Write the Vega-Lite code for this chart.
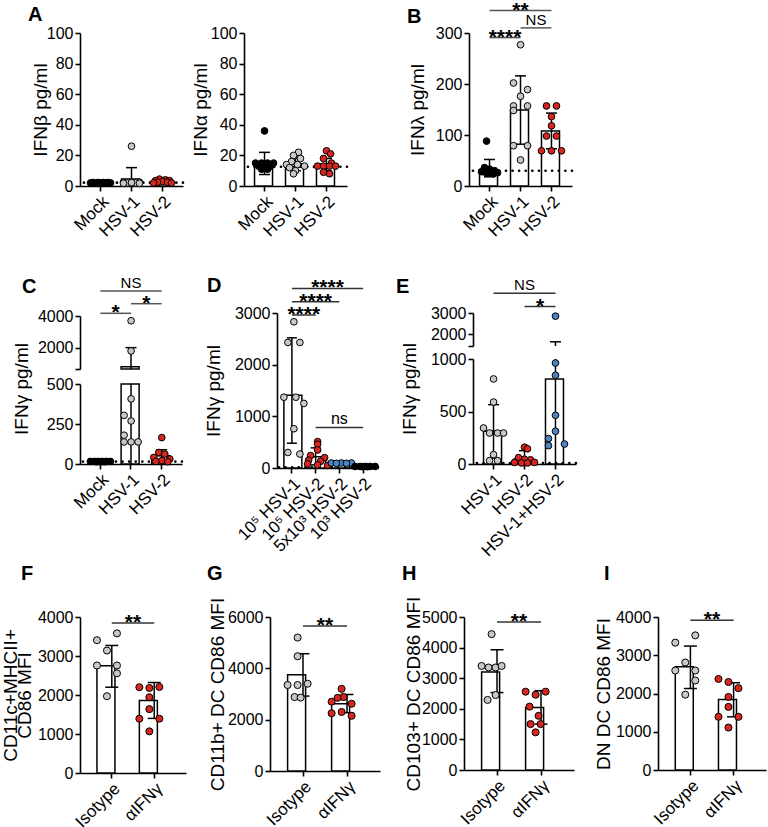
{
"$schema": "https://vega.github.io/schema/vega-lite/v6.json",
"padding": {"left": 1, "top": -1, "right": 5, "bottom": 5},
"config": {
  "view": {"stroke": null},
  "font": "Liberation Sans",
  "numberFormat": "d",
  "axis": {"domainColor": "black", "domainWidth": 1.6, "tickColor": "black", "tickWidth": 1.6, "tickSize": 5, "labelColor": "black", "labelFontSize": 16, "labelPadding": 2, "labelOverlap": false, "titleFontSize": 19, "titleFontWeight": "normal", "titleColor": "black", "titlePadding": 0, "grid": false},
  "axisX": {"labelAngle": -45, "labelFontSize": 17},
  "title": {"anchor": "start", "frame": "bounds", "fontSize": 20, "fontWeight": "bold", "baseline": "alphabetic", "color": "black"}
},
"datasets": {
  "bars": [
    {"p":"A1","g":"Mock","m":2,"lo":1.5,"hi":2.5},
    {"p":"A1","g":"HSV-1","m":4.5,"lo":0,"hi":12},
    {"p":"A1","g":"HSV-2","m":3,"lo":2,"hi":4},
    {"p":"A2","g":"Mock","m":14.5,"lo":7.5,"hi":22},
    {"p":"A2","g":"HSV-1","m":14.5,"lo":10,"hi":18},
    {"p":"A2","g":"HSV-2","m":14.5,"lo":10,"hi":18},
    {"p":"B","g":"Mock","m":30,"lo":18,"hi":52},
    {"p":"B","g":"HSV-1","m":149,"lo":82,"hi":216},
    {"p":"B","g":"HSV-2","m":108,"lo":73,"hi":143},
    {"p":"C","g":"Mock","m":15,"lo":12,"hi":18},
    {"p":"C","g":"HSV-1","m":790,"lo":0,"hi":2000},
    {"p":"C","g":"HSV-2","m":52,"lo":15,"hi":89},
    {"p":"D","g":"10⁵ HSV-1","m":1410,"lo":480,"hi":2520},
    {"p":"D","g":"10⁵ HSV-2","m":220,"lo":60,"hi":390},
    {"p":"D","g":"5x10³ HSV-2","m":88,"lo":78,"hi":100},
    {"p":"D","g":"10³ HSV-2","m":25,"lo":20,"hi":30},
    {"p":"E","g":"HSV-1","m":311,"lo":55,"hi":565},
    {"p":"E","g":"HSV-2","m":50,"lo":0,"hi":127},
    {"p":"E","g":"HSV-1+HSV-2","m":810,"lo":0,"hi":1630},
    {"p":"F","g":"Isotype","m":2750,"lo":2200,"hi":3270},
    {"p":"F","g":"αIFNγ","m":1856,"lo":1400,"hi":2320},
    {"p":"G","g":"Isotype","m":3750,"lo":2920,"hi":4570},
    {"p":"G","g":"αIFNγ","m":2620,"lo":2270,"hi":2980},
    {"p":"H","g":"Isotype","m":3200,"lo":2530,"hi":3930},
    {"p":"H","g":"αIFNγ","m":2040,"lo":1500,"hi":2590},
    {"p":"I","g":"Isotype","m":2700,"lo":2130,"hi":3240},
    {"p":"I","g":"αIFNγ","m":1840,"lo":1390,"hi":2280}
  ],
  "lod": [
    {"p":"A1","y":2.2},{"p":"A2","y":12.6},{"p":"B","y":30},{"p":"C","y":15},{"p":"D","y":13},{"p":"E","y":10}
  ],
  "sig": [
    {"p":"B","i1":0,"i2":1,"y":291,"t":"****"},
    {"p":"B","i1":1,"i2":2,"y":310,"t":"NS"},
    {"p":"B","i1":0,"i2":2,"y":344,"t":"**"},
    {"p":"C","i1":0,"i2":1,"y":4170,"t":"*"},
    {"p":"C","i1":1,"i2":2,"y":4777,"t":"*"},
    {"p":"C","i1":0,"i2":2,"y":5580,"t":"NS"},
    {"p":"D","i1":0,"i2":1,"y":2961,"t":"****"},
    {"p":"D","i1":0,"i2":2,"y":3219,"t":"****"},
    {"p":"D","i1":0,"i2":3,"y":3476,"t":"****"},
    {"p":"D","i1":1,"i2":3,"y":786,"t":"ns"},
    {"p":"E","i1":0,"i2":2,"y":3935,"t":"NS"},
    {"p":"E","i1":1,"i2":2,"y":3309,"t":"*"},
    {"p":"F","i1":0,"i2":1,"y":3846,"t":"**"},
    {"p":"G","i1":0,"i2":1,"y":5649,"t":"**"},
    {"p":"H","i1":0,"i2":1,"y":4837,"t":"**"},
    {"p":"I","i1":0,"i2":1,"y":3914,"t":"**"}
  ],
  "pts": [
    {"p":"A1","g":"Mock","v":2,"s":-1},{"p":"A1","g":"Mock","v":2,"s":-0.5},{"p":"A1","g":"Mock","v":2,"s":0},{"p":"A1","g":"Mock","v":2,"s":0.5},{"p":"A1","g":"Mock","v":2,"s":1},
    {"p":"A1","g":"Mock","v":2.3,"s":-0.75},{"p":"A1","g":"Mock","v":2.3,"s":-0.25},{"p":"A1","g":"Mock","v":2.3,"s":0.25},{"p":"A1","g":"Mock","v":2.3,"s":0.75},
    {"p":"A1","g":"HSV-1","v":26,"s":0},{"p":"A1","g":"HSV-1","v":2.5,"s":-0.8},{"p":"A1","g":"HSV-1","v":2.5,"s":0},{"p":"A1","g":"HSV-1","v":2.5,"s":0.8},{"p":"A1","g":"HSV-1","v":2,"s":-0.4},{"p":"A1","g":"HSV-1","v":2,"s":0.4},{"p":"A1","g":"HSV-1","v":1.8,"s":-0.8},{"p":"A1","g":"HSV-1","v":1.8,"s":0.8},{"p":"A1","g":"HSV-1","v":2.2,"s":0},
    {"p":"A1","g":"HSV-2","v":4.5,"s":-0.3},{"p":"A1","g":"HSV-2","v":4,"s":0.3},{"p":"A1","g":"HSV-2","v":3.5,"s":-0.7},{"p":"A1","g":"HSV-2","v":3.5,"s":0.7},{"p":"A1","g":"HSV-2","v":3,"s":0},{"p":"A1","g":"HSV-2","v":2.5,"s":-0.5},{"p":"A1","g":"HSV-2","v":2.5,"s":0.5},{"p":"A1","g":"HSV-2","v":2,"s":-0.9},{"p":"A1","g":"HSV-2","v":2,"s":0.9},
    {"p":"A2","g":"Mock","v":36,"s":0},{"p":"A2","g":"Mock","v":15,"s":-0.9},{"p":"A2","g":"Mock","v":15,"s":-0.3},{"p":"A2","g":"Mock","v":15,"s":0.3},{"p":"A2","g":"Mock","v":15,"s":0.9},{"p":"A2","g":"Mock","v":13,"s":-0.6},{"p":"A2","g":"Mock","v":13,"s":0},{"p":"A2","g":"Mock","v":13,"s":0.6},{"p":"A2","g":"Mock","v":11,"s":-0.3},{"p":"A2","g":"Mock","v":11,"s":0.3},
    {"p":"A2","g":"HSV-1","v":22,"s":0.3},{"p":"A2","g":"HSV-1","v":20,"s":-0.2},{"p":"A2","g":"HSV-1","v":18,"s":0.5},{"p":"A2","g":"HSV-1","v":16,"s":-0.4},{"p":"A2","g":"HSV-1","v":14,"s":-0.9},{"p":"A2","g":"HSV-1","v":14,"s":0.2},{"p":"A2","g":"HSV-1","v":13,"s":0.9},{"p":"A2","g":"HSV-1","v":12,"s":-0.6},{"p":"A2","g":"HSV-1","v":10,"s":0},{"p":"A2","g":"HSV-1","v":8,"s":-0.2},
    {"p":"A2","g":"HSV-2","v":23,"s":0},{"p":"A2","g":"HSV-2","v":21,"s":0.4},{"p":"A2","g":"HSV-2","v":18,"s":-0.3},{"p":"A2","g":"HSV-2","v":15,"s":0.5},{"p":"A2","g":"HSV-2","v":13,"s":-0.9},{"p":"A2","g":"HSV-2","v":13,"s":-0.3},{"p":"A2","g":"HSV-2","v":13,"s":0.3},{"p":"A2","g":"HSV-2","v":13,"s":0.9},{"p":"A2","g":"HSV-2","v":9,"s":-0.3},{"p":"A2","g":"HSV-2","v":8,"s":0.3},
    {"p":"B","g":"Mock","v":88,"s":-0.3},{"p":"B","g":"Mock","v":36,"s":-0.5},{"p":"B","g":"Mock","v":33,"s":0},{"p":"B","g":"Mock","v":30,"s":0.5},{"p":"B","g":"Mock","v":28,"s":-0.8},{"p":"B","g":"Mock","v":27,"s":0.2},{"p":"B","g":"Mock","v":26,"s":0.8},{"p":"B","g":"Mock","v":25,"s":-0.3},{"p":"B","g":"Mock","v":24,"s":0.4},
    {"p":"B","g":"HSV-1","v":277,"s":0},{"p":"B","g":"HSV-1","v":202,"s":-0.7},{"p":"B","g":"HSV-1","v":189,"s":0.7},{"p":"B","g":"HSV-1","v":176,"s":0},{"p":"B","g":"HSV-1","v":157,"s":-0.7},{"p":"B","g":"HSV-1","v":157,"s":0.7},{"p":"B","g":"HSV-1","v":148,"s":-0.7},{"p":"B","g":"HSV-1","v":79,"s":-0.7},{"p":"B","g":"HSV-1","v":79,"s":0.7},{"p":"B","g":"HSV-1","v":51,"s":0},
    {"p":"B","g":"HSV-2","v":157,"s":-0.5},{"p":"B","g":"HSV-2","v":157,"s":0.5},{"p":"B","g":"HSV-2","v":136,"s":0},{"p":"B","g":"HSV-2","v":118,"s":0},{"p":"B","g":"HSV-2","v":98,"s":-0.5},{"p":"B","g":"HSV-2","v":98,"s":0.5},{"p":"B","g":"HSV-2","v":69,"s":-1},{"p":"B","g":"HSV-2","v":69,"s":0},{"p":"B","g":"HSV-2","v":69,"s":1},
    {"p":"C","g":"Mock","v":16,"s":-1},{"p":"C","g":"Mock","v":16,"s":-0.6},{"p":"C","g":"Mock","v":16,"s":-0.2},{"p":"C","g":"Mock","v":16,"s":0.2},{"p":"C","g":"Mock","v":16,"s":0.6},{"p":"C","g":"Mock","v":16,"s":1},{"p":"C","g":"Mock","v":14,"s":-0.4},{"p":"C","g":"Mock","v":14,"s":0},{"p":"C","g":"Mock","v":14,"s":0.4},
    {"p":"C","g":"HSV-1","v":3700,"s":0},{"p":"C","g":"HSV-1","v":1790,"s":0},{"p":"C","g":"HSV-1","v":407,"s":0},{"p":"C","g":"HSV-1","v":304,"s":-0.7},{"p":"C","g":"HSV-1","v":269,"s":0},{"p":"C","g":"HSV-1","v":180,"s":-0.7},{"p":"C","g":"HSV-1","v":138,"s":-0.7},{"p":"C","g":"HSV-1","v":138,"s":0},{"p":"C","g":"HSV-1","v":138,"s":0.7},
    {"p":"C","g":"HSV-2","v":165,"s":0},{"p":"C","g":"HSV-2","v":72,"s":-0.3},{"p":"C","g":"HSV-2","v":62,"s":0.3},{"p":"C","g":"HSV-2","v":41,"s":-0.8},{"p":"C","g":"HSV-2","v":31,"s":0.8},{"p":"C","g":"HSV-2","v":21,"s":0},{"p":"C","g":"HSV-2","v":16,"s":-0.6},{"p":"C","g":"HSV-2","v":14,"s":0.6},
    {"p":"D","g":"10⁵ HSV-1","v":2830,"s":0},{"p":"D","g":"10⁵ HSV-1","v":2430,"s":-0.6},{"p":"D","g":"10⁵ HSV-1","v":2430,"s":0.6},{"p":"D","g":"10⁵ HSV-1","v":1370,"s":-1},{"p":"D","g":"10⁵ HSV-1","v":1370,"s":0.2},{"p":"D","g":"10⁵ HSV-1","v":1250,"s":1},{"p":"D","g":"10⁵ HSV-1","v":760,"s":0},{"p":"D","g":"10⁵ HSV-1","v":300,"s":-0.6},{"p":"D","g":"10⁵ HSV-1","v":270,"s":0.6},
    {"p":"D","g":"10⁵ HSV-2","v":510,"s":0},{"p":"D","g":"10⁵ HSV-2","v":460,"s":0},{"p":"D","g":"10⁵ HSV-2","v":350,"s":0},{"p":"D","g":"10⁵ HSV-2","v":240,"s":-0.7},{"p":"D","g":"10⁵ HSV-2","v":200,"s":0.7},{"p":"D","g":"10⁵ HSV-2","v":150,"s":-0.9},{"p":"D","g":"10⁵ HSV-2","v":130,"s":0.3},{"p":"D","g":"10⁵ HSV-2","v":80,"s":-1},{"p":"D","g":"10⁵ HSV-2","v":60,"s":0},{"p":"D","g":"10⁵ HSV-2","v":50,"s":1},
    {"p":"D","g":"5x10³ HSV-2","v":97,"s":-1},{"p":"D","g":"5x10³ HSV-2","v":97,"s":0},{"p":"D","g":"5x10³ HSV-2","v":97,"s":1},{"p":"D","g":"5x10³ HSV-2","v":90,"s":-0.5},{"p":"D","g":"5x10³ HSV-2","v":90,"s":0.5},
    {"p":"D","g":"10³ HSV-2","v":30,"s":-1},{"p":"D","g":"10³ HSV-2","v":30,"s":-0.5},{"p":"D","g":"10³ HSV-2","v":30,"s":0},{"p":"D","g":"10³ HSV-2","v":30,"s":0.5},{"p":"D","g":"10³ HSV-2","v":30,"s":1},{"p":"D","g":"10³ HSV-2","v":25,"s":-0.25},{"p":"D","g":"10³ HSV-2","v":25,"s":0.25},
    {"p":"E","g":"HSV-1","v":810,"s":0},{"p":"E","g":"HSV-1","v":590,"s":0},{"p":"E","g":"HSV-1","v":343,"s":-1},{"p":"E","g":"HSV-1","v":295,"s":-0.4},{"p":"E","g":"HSV-1","v":295,"s":0.4},{"p":"E","g":"HSV-1","v":295,"s":1},{"p":"E","g":"HSV-1","v":89,"s":0},{"p":"E","g":"HSV-1","v":32,"s":-0.4},{"p":"E","g":"HSV-1","v":32,"s":0.4},
    {"p":"E","g":"HSV-2","v":160,"s":0},{"p":"E","g":"HSV-2","v":145,"s":0.3},{"p":"E","g":"HSV-2","v":60,"s":-0.6},{"p":"E","g":"HSV-2","v":45,"s":0},{"p":"E","g":"HSV-2","v":40,"s":0.6},{"p":"E","g":"HSV-2","v":15,"s":-1},{"p":"E","g":"HSV-2","v":10,"s":-0.3},{"p":"E","g":"HSV-2","v":10,"s":0.3},{"p":"E","g":"HSV-2","v":15,"s":1},
    {"p":"E","g":"HSV-1+HSV-2","v":2850,"s":0},{"p":"E","g":"HSV-1+HSV-2","v":962,"s":0},{"p":"E","g":"HSV-1+HSV-2","v":845,"s":0},{"p":"E","g":"HSV-1+HSV-2","v":464,"s":0},{"p":"E","g":"HSV-1+HSV-2","v":312,"s":0},{"p":"E","g":"HSV-1+HSV-2","v":242,"s":-0.7},{"p":"E","g":"HSV-1+HSV-2","v":175,"s":-0.7},{"p":"E","g":"HSV-1+HSV-2","v":190,"s":0.9},
    {"p":"F","g":"Isotype","v":3580,"s":1},{"p":"F","g":"Isotype","v":3405,"s":-1},{"p":"F","g":"Isotype","v":3140,"s":0},{"p":"F","g":"Isotype","v":2757,"s":-1},{"p":"F","g":"Isotype","v":2757,"s":1},{"p":"F","g":"Isotype","v":2556,"s":1},{"p":"F","g":"Isotype","v":1969,"s":0},
    {"p":"F","g":"αIFNγ","v":2200,"s":-1},{"p":"F","g":"αIFNγ","v":2180,"s":0},{"p":"F","g":"αIFNγ","v":2206,"s":1},{"p":"F","g":"αIFNγ","v":1943,"s":0},{"p":"F","g":"αIFNγ","v":1637,"s":0},{"p":"F","g":"αIFNγ","v":1392,"s":-1},{"p":"F","g":"αIFNγ","v":1392,"s":1},{"p":"F","g":"αIFNγ","v":1068,"s":0},
    {"p":"G","g":"Isotype","v":5200,"s":0},{"p":"G","g":"Isotype","v":4470,"s":0},{"p":"G","g":"Isotype","v":3350,"s":-1},{"p":"G","g":"Isotype","v":3350,"s":0},{"p":"G","g":"Isotype","v":3400,"s":1},{"p":"G","g":"Isotype","v":2880,"s":-0.3},{"p":"G","g":"Isotype","v":2860,"s":0.3},
    {"p":"G","g":"αIFNγ","v":3200,"s":0},{"p":"G","g":"αIFNγ","v":2880,"s":0.2},{"p":"G","g":"αIFNγ","v":2850,"s":-0.4},{"p":"G","g":"αIFNγ","v":2700,"s":-1},{"p":"G","g":"αIFNγ","v":2620,"s":1},{"p":"G","g":"αIFNγ","v":2300,"s":0},{"p":"G","g":"αIFNγ","v":2250,"s":-1},{"p":"G","g":"αIFNγ","v":2150,"s":1},
    {"p":"H","g":"Isotype","v":4440,"s":0},{"p":"H","g":"Isotype","v":3400,"s":-1},{"p":"H","g":"Isotype","v":3350,"s":-0.3},{"p":"H","g":"Isotype","v":3350,"s":0.4},{"p":"H","g":"Isotype","v":3400,"s":1},{"p":"H","g":"Isotype","v":2450,"s":0.4},{"p":"H","g":"Isotype","v":2290,"s":-0.4},
    {"p":"H","g":"αIFNγ","v":2560,"s":-1},{"p":"H","g":"αIFNγ","v":2560,"s":1},{"p":"H","g":"αIFNγ","v":2460,"s":0},{"p":"H","g":"αIFNγ","v":2070,"s":-0.6},{"p":"H","g":"αIFNγ","v":1770,"s":0.3},{"p":"H","g":"αIFNγ","v":1500,"s":-0.5},{"p":"H","g":"αIFNγ","v":1500,"s":0.5},{"p":"H","g":"αIFNγ","v":1230,"s":0},
    {"p":"I","g":"Isotype","v":3520,"s":1},{"p":"I","g":"Isotype","v":3330,"s":-1},{"p":"I","g":"Isotype","v":2810,"s":0},{"p":"I","g":"Isotype","v":2600,"s":-1},{"p":"I","g":"Isotype","v":2600,"s":1},{"p":"I","g":"Isotype","v":2340,"s":1},{"p":"I","g":"Isotype","v":1970,"s":0},
    {"p":"I","g":"αIFNγ","v":2380,"s":-1},{"p":"I","g":"αIFNγ","v":2300,"s":0},{"p":"I","g":"αIFNγ","v":2140,"s":1},{"p":"I","g":"αIFNγ","v":1910,"s":0},{"p":"I","g":"αIFNγ","v":1650,"s":0},{"p":"I","g":"αIFNγ","v":1390,"s":-1},{"p":"I","g":"αIFNγ","v":1390,"s":1},{"p":"I","g":"αIFNγ","v":1110,"s":0}
  ]
},
"bounds": "flush",
"spacing": 280,
"vconcat": [
 {"bounds": "flush", "spacing": 61, "hconcat": [
  {"width": 103, "height": 153, "title": {"text": "A", "dx": -3, "offset": 0},
   "layer": [
    {"data": {"name": "bars"}, "transform": [{"filter": "datum.p=='A1'"}], "mark": {"type": "bar", "fill": "white", "stroke": "black", "strokeWidth": 1.5},
     "encoding": {"x": {"field": "g", "type": "nominal", "scale": {"domain": ["Mock","HSV-1","HSV-2"], "paddingInner": 0.355, "paddingOuter": 0.34}, "axis": {"title": null}},
       "y": {"field": "m", "type": "quantitative", "scale": {"domain": [0,100], "nice": false}, "axis": {"title": "IFNβ pg/ml", "values": [0,20,40,60,80,100], "tickCount": 12, "labelOverlap": false, "minExtent": 30, "maxExtent": 30}}}},
    {"data": {"name": "bars"}, "transform": [{"filter": "datum.p=='A1'"}], "mark": {"type": "rule", "color": "black", "strokeWidth": 1.5},
     "encoding": {"x": {"field": "g", "type": "nominal"}, "y": {"field": "lo", "type": "quantitative"}, "y2": {"field": "hi"}}},
    {"data": {"name": "bars"}, "transform": [{"filter": "datum.p=='A1'"}], "mark": {"type": "tick", "color": "black", "thickness": 1.5, "size": 11, "opacity": 1},
     "encoding": {"x": {"field": "g", "type": "nominal"}, "y": {"field": "hi", "type": "quantitative"}}},
    {"data": {"name": "lod"}, "transform": [{"filter": "datum.p=='A1'"}], "mark": {"type": "rule", "color": "black", "strokeWidth": 2.6, "strokeDash": [0.1, 6.5], "strokeCap": "round"},
     "encoding": {"y": {"field": "y", "type": "quantitative"}}},
    {"data": {"name": "pts"}, "transform": [{"filter": "datum.p=='A1'"}], "mark": {"type": "point", "filled": true, "size": 45, "stroke": "black", "strokeWidth": 1, "opacity": 1},
     "encoding": {"x": {"field": "g", "type": "nominal"}, "xOffset": {"field": "s", "type": "quantitative", "scale": {"domain": [-1,1], "range": [0,20]}}, "y": {"field": "v", "type": "quantitative"},
       "fill": {"field": "g", "type": "nominal", "scale": {"domain": ["Mock","HSV-1","HSV-2","10⁵ HSV-1","10⁵ HSV-2","5x10³ HSV-2","10³ HSV-2","HSV-1+HSV-2","Isotype","αIFNγ"], "range": ["#000000","#c8c8c8","#d7261e","#c8c8c8","#d7261e","#4a84c4","#000000","#4a84c4","#c8c8c8","#d7261e"]}, "legend": null}}}
   ]},
  {"bounds": "flush", "spacing": 122, "hconcat": [
   {"width": 103, "height": 153,
    "layer": [
     {"data": {"name": "bars"}, "transform": [{"filter": "datum.p=='A2'"}], "mark": {"type": "bar", "fill": "white", "stroke": "black", "strokeWidth": 1.5},
      "encoding": {"x": {"field": "g", "type": "nominal", "scale": {"domain": ["Mock","HSV-1","HSV-2"], "paddingInner": 0.355, "paddingOuter": 0.34}, "axis": {"title": null}},
        "y": {"field": "m", "type": "quantitative", "scale": {"domain": [0,100], "nice": false}, "axis": {"title": "IFNα pg/ml", "values": [0,20,40,60,80,100], "tickCount": 12, "labelOverlap": false, "minExtent": 34, "maxExtent": 34}}}},
     {"data": {"name": "bars"}, "transform": [{"filter": "datum.p=='A2'"}], "mark": {"type": "rule", "color": "black", "strokeWidth": 1.5},
      "encoding": {"x": {"field": "g", "type": "nominal"}, "y": {"field": "lo", "type": "quantitative"}, "y2": {"field": "hi"}}},
     {"data": {"name": "bars"}, "transform": [{"filter": "datum.p=='A2'"}], "mark": {"type": "tick", "color": "black", "thickness": 1.5, "size": 11, "opacity": 1},
      "encoding": {"x": {"field": "g", "type": "nominal"}, "y": {"field": "hi", "type": "quantitative"}}},
     {"data": {"name": "bars"}, "transform": [{"filter": "datum.p=='A2'"}], "mark": {"type": "tick", "color": "black", "thickness": 1.5, "size": 11, "opacity": 1},
      "encoding": {"x": {"field": "g", "type": "nominal"}, "y": {"field": "lo", "type": "quantitative"}}},
     {"data": {"name": "lod"}, "transform": [{"filter": "datum.p=='A2'"}], "mark": {"type": "rule", "color": "black", "strokeWidth": 2.6, "strokeDash": [0.1, 6.5], "strokeCap": "round"},
      "encoding": {"y": {"field": "y", "type": "quantitative"}}},
     {"data": {"name": "pts"}, "transform": [{"filter": "datum.p=='A2'"}], "mark": {"type": "point", "filled": true, "size": 45, "stroke": "black", "strokeWidth": 1, "opacity": 1},
      "encoding": {"x": {"field": "g", "type": "nominal"}, "xOffset": {"field": "s", "type": "quantitative", "scale": {"domain": [-1,1], "range": [0,20]}}, "y": {"field": "v", "type": "quantitative"},
        "fill": {"field": "g", "type": "nominal", "scale": {"domain": ["Mock","HSV-1","HSV-2","10⁵ HSV-1","10⁵ HSV-2","5x10³ HSV-2","10³ HSV-2","HSV-1+HSV-2","Isotype","αIFNγ"], "range": ["#000000","#c8c8c8","#d7261e","#c8c8c8","#d7261e","#4a84c4","#000000","#4a84c4","#c8c8c8","#d7261e"]}, "legend": null}}}
    ]},
   {"width": 103, "height": 153, "title": {"text": "B", "dx": -1, "offset": -27},
    "resolve": {"scale": {"x": "independent"}},
    "layer": [
     {"layer": [
      {"data": {"name": "bars"}, "transform": [{"filter": "datum.p=='B'"}], "mark": {"type": "bar", "fill": "white", "stroke": "black", "strokeWidth": 1.5},
       "encoding": {"x": {"field": "g", "type": "nominal", "scale": {"domain": ["Mock","HSV-1","HSV-2"], "paddingInner": 0.355, "paddingOuter": 0.34}, "axis": {"title": null}},
         "y": {"field": "m", "type": "quantitative", "scale": {"domain": [0,300], "nice": false}, "axis": {"title": "IFNλ pg/ml", "values": [0,100,200,300], "tickCount": 12, "labelOverlap": false, "minExtent": 42, "maxExtent": 42}}}},
      {"data": {"name": "bars"}, "transform": [{"filter": "datum.p=='B'"}], "mark": {"type": "rule", "color": "black", "strokeWidth": 1.5},
       "encoding": {"x": {"field": "g", "type": "nominal"}, "y": {"field": "lo", "type": "quantitative"}, "y2": {"field": "hi"}}},
      {"data": {"name": "bars"}, "transform": [{"filter": "datum.p=='B'"}], "mark": {"type": "tick", "color": "black", "thickness": 1.5, "size": 11, "opacity": 1},
       "encoding": {"x": {"field": "g", "type": "nominal"}, "y": {"field": "hi", "type": "quantitative"}}},
      {"data": {"name": "bars"}, "transform": [{"filter": "datum.p=='B'"}], "mark": {"type": "tick", "color": "black", "thickness": 1.5, "size": 11, "opacity": 1},
       "encoding": {"x": {"field": "g", "type": "nominal"}, "y": {"field": "lo", "type": "quantitative"}}},
      {"data": {"name": "lod"}, "transform": [{"filter": "datum.p=='B'"}], "mark": {"type": "rule", "color": "black", "strokeWidth": 2.6, "strokeDash": [0.1, 6.5], "strokeCap": "round"},
       "encoding": {"y": {"field": "y", "type": "quantitative"}}},
      {"data": {"name": "pts"}, "transform": [{"filter": "datum.p=='B'"}], "mark": {"type": "point", "filled": true, "size": 45, "stroke": "black", "strokeWidth": 1, "opacity": 1},
       "encoding": {"x": {"field": "g", "type": "nominal"}, "xOffset": {"field": "s", "type": "quantitative", "scale": {"domain": [-1,1], "range": [0,20]}}, "y": {"field": "v", "type": "quantitative"},
         "fill": {"field": "g", "type": "nominal", "scale": {"domain": ["Mock","HSV-1","HSV-2","10⁵ HSV-1","10⁵ HSV-2","5x10³ HSV-2","10³ HSV-2","HSV-1+HSV-2","Isotype","αIFNγ"], "range": ["#000000","#c8c8c8","#d7261e","#c8c8c8","#d7261e","#4a84c4","#000000","#4a84c4","#c8c8c8","#d7261e"]}, "legend": null}}}
     ]},
     {"data": {"name": "sig"}, "transform": [{"filter": "datum.p=='B'"}, {"calculate": "(datum.i1+datum.i2)/2", "as": "mid"}],
      "encoding": {"x": {"field": "i1", "type": "quantitative", "scale": {"domain": [-0.6625, 2.6625], "nice": false, "zero": false}, "axis": null}, "y": {"field": "y", "type": "quantitative"}},
      "layer": [
       {"mark": {"type": "rule", "color": "#555555", "strokeWidth": 1.5}, "encoding": {"x2": {"field": "i2"}}},
       {"transform": [{"filter": "indexof(datum.t,'*')>=0"}], "mark": {"type": "text", "fontSize": 21, "fontWeight": "bold", "baseline": "alphabetic", "dy": 6}, "encoding": {"x": {"field": "mid", "type": "quantitative"}, "text": {"field": "t"}}},
       {"transform": [{"filter": "indexof(datum.t,'*')<0"}], "mark": {"type": "text", "fontSize": 15, "baseline": "alphabetic", "dy": -3}, "encoding": {"x": {"field": "mid", "type": "quantitative"}, "text": {"field": "t"}}}
      ]}
    ]}
  ]}
 ]},
 {"bounds": "flush", "spacing": 304, "vconcat": [
  {"bounds": "flush", "spacing": 95, "hconcat": [
   {"width": 102, "height": 151, "title": {"text": "C", "dx": 10, "offset": -21},
    "resolve": {"scale": {"x": "independent", "y": "independent"}},
    "layer": [
     {"layer": [
      {"data": {"name": "bars"}, "transform": [{"filter": "datum.p=='C'"}], "mark": {"type": "bar", "fill": "white", "stroke": "black", "strokeWidth": 1.5},
       "encoding": {"x": {"field": "g", "type": "nominal", "scale": {"domain": ["Mock","HSV-1","HSV-2"], "paddingInner": 0.355, "paddingOuter": 0.34}, "axis": {"title": null}},
         "y": {"field": "m", "type": "quantitative", "scale": {"domain": [0,500], "range": [151,71], "clamp": true, "nice": false, "zero": false}, "axis": {"title": "IFNγ pg/ml", "values": [0,250,500], "tickCount": 12, "labelOverlap": false, "titleY": 75.5, "minExtent": 49, "maxExtent": 49}}}},
      {"data": {"name": "bars"}, "transform": [{"filter": "datum.p=='C'"}], "mark": {"type": "rule", "color": "black", "strokeWidth": 1.5},
       "encoding": {"x": {"field": "g", "type": "nominal"}, "y": {"field": "lo", "type": "quantitative"}, "y2": {"field": "hi"}}},
      {"data": {"name": "bars"}, "transform": [{"filter": "datum.p=='C' && datum.hi<=500"}], "mark": {"type": "tick", "color": "black", "thickness": 1.5, "size": 11, "opacity": 1},
       "encoding": {"x": {"field": "g", "type": "nominal"}, "y": {"field": "hi", "type": "quantitative"}}},
      {"data": {"name": "lod"}, "transform": [{"filter": "datum.p=='C'"}], "mark": {"type": "rule", "color": "black", "strokeWidth": 2.6, "strokeDash": [0.1, 6.5], "strokeCap": "round"},
       "encoding": {"y": {"field": "y", "type": "quantitative"}}},
      {"data": {"name": "pts"}, "transform": [{"filter": "datum.p=='C' && datum.v<=500"}], "mark": {"type": "point", "filled": true, "size": 45, "stroke": "black", "strokeWidth": 1, "opacity": 1},
       "encoding": {"x": {"field": "g", "type": "nominal"}, "xOffset": {"field": "s", "type": "quantitative", "scale": {"domain": [-1,1], "range": [0,20]}}, "y": {"field": "v", "type": "quantitative"},
         "fill": {"field": "g", "type": "nominal", "scale": {"domain": ["Mock","HSV-1","HSV-2","10⁵ HSV-1","10⁵ HSV-2","5x10³ HSV-2","10³ HSV-2","HSV-1+HSV-2","Isotype","αIFNγ"], "range": ["#000000","#c8c8c8","#d7261e","#c8c8c8","#d7261e","#4a84c4","#000000","#4a84c4","#c8c8c8","#d7261e"]}, "legend": null}}}
     ]},
     {"layer": [
      {"data": {"name": "bars"}, "transform": [{"filter": "datum.p=='C' && datum.m>650"}], "mark": {"type": "bar", "fill": "white", "stroke": "black", "strokeWidth": 1.5},
       "encoding": {"x": {"field": "g", "type": "nominal", "scale": {"domain": ["Mock","HSV-1","HSV-2"], "paddingInner": 0.355, "paddingOuter": 0.34}, "axis": null},
         "y": {"field": "m", "type": "quantitative", "scale": {"domain": [650,4000], "range": [56,3], "nice": false, "zero": false}, "axis": {"orient": "left", "title": null, "values": [650,2000,4000], "tickCount": 12, "labelOverlap": false, "labelExpr": "datum.value==650 ? '' : datum.label"}},
         "y2": {"datum": 650}}},
      {"data": {"name": "bars"}, "transform": [{"filter": "datum.p=='C' && datum.hi>650"}], "mark": {"type": "rule", "color": "black", "strokeWidth": 1.5},
       "encoding": {"x": {"field": "g", "type": "nominal"}, "y": {"field": "hi", "type": "quantitative"}, "y2": {"datum": 650}}},
      {"data": {"name": "bars"}, "transform": [{"filter": "datum.p=='C' && datum.hi>650"}], "mark": {"type": "tick", "color": "black", "thickness": 1.5, "size": 11, "opacity": 1},
       "encoding": {"x": {"field": "g", "type": "nominal"}, "y": {"field": "hi", "type": "quantitative"}}},
      {"data": {"name": "pts"}, "transform": [{"filter": "datum.p=='C' && datum.v>650"}], "mark": {"type": "point", "filled": true, "size": 45, "stroke": "black", "strokeWidth": 1, "opacity": 1},
       "encoding": {"x": {"field": "g", "type": "nominal"}, "xOffset": {"field": "s", "type": "quantitative", "scale": {"domain": [-1,1], "range": [0,20]}}, "y": {"field": "v", "type": "quantitative"},
         "fill": {"field": "g", "type": "nominal", "scale": {"domain": ["Mock","HSV-1","HSV-2","10⁵ HSV-1","10⁵ HSV-2","5x10³ HSV-2","10³ HSV-2","HSV-1+HSV-2","Isotype","αIFNγ"], "range": ["#000000","#c8c8c8","#d7261e","#c8c8c8","#d7261e","#4a84c4","#000000","#4a84c4","#c8c8c8","#d7261e"]}, "legend": null}}}
     ]},
     {"data": {"name": "sig"}, "transform": [{"filter": "datum.p=='C'"}, {"calculate": "(datum.i1+datum.i2)/2", "as": "mid"}],
      "encoding": {"x": {"field": "i1", "type": "quantitative", "scale": {"domain": [-0.6625, 2.6625], "nice": false, "zero": false}, "axis": null},
        "y": {"field": "y", "type": "quantitative", "scale": {"domain": [650,4000], "range": [56,3], "nice": false, "zero": false}, "axis": null}},
      "layer": [
       {"mark": {"type": "rule", "color": "#555555", "strokeWidth": 1.5}, "encoding": {"x2": {"field": "i2"}}},
       {"transform": [{"filter": "indexof(datum.t,'*')>=0"}], "mark": {"type": "text", "fontSize": 21, "fontWeight": "bold", "baseline": "alphabetic", "dy": 6}, "encoding": {"x": {"field": "mid", "type": "quantitative"}, "text": {"field": "t"}}},
       {"transform": [{"filter": "indexof(datum.t,'*')<0"}], "mark": {"type": "text", "fontSize": 15, "baseline": "alphabetic", "dy": -3}, "encoding": {"x": {"field": "mid", "type": "quantitative"}, "text": {"field": "t"}}}
      ]}
    ]},
   {"width": 101, "height": 155, "title": {"text": "D", "dx": 3, "offset": -19},
    "resolve": {"scale": {"x": "independent"}},
    "layer": [
     {"layer": [
      {"data": {"name": "bars"}, "transform": [{"filter": "datum.p=='D'"}], "mark": {"type": "bar", "fill": "white", "stroke": "black", "strokeWidth": 1.5},
       "encoding": {"x": {"field": "g", "type": "nominal", "scale": {"domain": ["10⁵ HSV-1","10⁵ HSV-2","5x10³ HSV-2","10³ HSV-2"], "paddingInner": 0.325, "paddingOuter": 0.29}, "axis": {"title": null}},
         "y": {"field": "m", "type": "quantitative", "scale": {"domain": [0,3000], "nice": false}, "axis": {"title": "IFNγ pg/ml", "values": [0,1000,2000,3000], "tickCount": 12, "labelOverlap": false, "minExtent": 54, "maxExtent": 54}}}},
      {"data": {"name": "bars"}, "transform": [{"filter": "datum.p=='D'"}], "mark": {"type": "rule", "color": "black", "strokeWidth": 1.5},
       "encoding": {"x": {"field": "g", "type": "nominal"}, "y": {"field": "lo", "type": "quantitative"}, "y2": {"field": "hi"}}},
      {"data": {"name": "bars"}, "transform": [{"filter": "datum.p=='D'"}], "mark": {"type": "tick", "color": "black", "thickness": 1.5, "size": 10, "opacity": 1},
       "encoding": {"x": {"field": "g", "type": "nominal"}, "y": {"field": "hi", "type": "quantitative"}}},
      {"data": {"name": "bars"}, "transform": [{"filter": "datum.p=='D'"}], "mark": {"type": "tick", "color": "black", "thickness": 1.5, "size": 10, "opacity": 1},
       "encoding": {"x": {"field": "g", "type": "nominal"}, "y": {"field": "lo", "type": "quantitative"}}},
      {"data": {"name": "lod"}, "transform": [{"filter": "datum.p=='D'"}], "mark": {"type": "rule", "color": "black", "strokeWidth": 2.6, "strokeDash": [0.1, 6.5], "strokeCap": "round"},
       "encoding": {"y": {"field": "y", "type": "quantitative"}}},
      {"data": {"name": "pts"}, "transform": [{"filter": "datum.p=='D'"}], "mark": {"type": "point", "filled": true, "size": 45, "stroke": "black", "strokeWidth": 1, "opacity": 1},
       "encoding": {"x": {"field": "g", "type": "nominal"}, "xOffset": {"field": "s", "type": "quantitative", "scale": {"domain": [-1,1], "range": [1,15]}}, "y": {"field": "v", "type": "quantitative"},
         "fill": {"field": "g", "type": "nominal", "scale": {"domain": ["Mock","HSV-1","HSV-2","10⁵ HSV-1","10⁵ HSV-2","5x10³ HSV-2","10³ HSV-2","HSV-1+HSV-2","Isotype","αIFNγ"], "range": ["#000000","#c8c8c8","#d7261e","#c8c8c8","#d7261e","#4a84c4","#000000","#4a84c4","#c8c8c8","#d7261e"]}, "legend": null}}}
     ]},
     {"data": {"name": "sig"}, "transform": [{"filter": "datum.p=='D'"}, {"calculate": "(datum.i1+datum.i2)/2", "as": "mid"}],
      "encoding": {"x": {"field": "i1", "type": "quantitative", "scale": {"domain": [-0.6275, 3.6275], "nice": false, "zero": false}, "axis": null}, "y": {"field": "y", "type": "quantitative"}},
      "layer": [
       {"mark": {"type": "rule", "color": "#333333", "strokeWidth": 1.5}, "encoding": {"x2": {"field": "i2"}}},
       {"transform": [{"filter": "indexof(datum.t,'*')>=0"}], "mark": {"type": "text", "fontSize": 21, "fontWeight": "bold", "baseline": "alphabetic", "dy": 6}, "encoding": {"x": {"field": "mid", "type": "quantitative"}, "text": {"field": "t"}}},
       {"transform": [{"filter": "indexof(datum.t,'*')<0"}], "mark": {"type": "text", "fontSize": 16, "baseline": "alphabetic", "dy": -3}, "encoding": {"x": {"field": "mid", "type": "quantitative"}, "text": {"field": "t"}}}
      ]}
    ]},
   {"width": 103, "height": 151, "title": {"text": "E", "dx": -4, "offset": -19},
    "resolve": {"scale": {"x": "independent", "y": "independent"}},
    "layer": [
     {"layer": [
      {"data": {"name": "bars"}, "transform": [{"filter": "datum.p=='E'"}], "mark": {"type": "bar", "fill": "white", "stroke": "black", "strokeWidth": 1.5},
       "encoding": {"x": {"field": "g", "type": "nominal", "scale": {"domain": ["HSV-1","HSV-2","HSV-1+HSV-2"], "paddingInner": 0.355, "paddingOuter": 0.34}, "axis": {"title": null}},
         "y": {"field": "m", "type": "quantitative", "scale": {"domain": [0,1000], "range": [151,46], "clamp": true, "nice": false, "zero": false}, "axis": {"title": "IFNγ pg/ml", "values": [0,500,1000], "tickCount": 12, "labelOverlap": false, "titleY": 75.5, "minExtent": 54, "maxExtent": 54}}}},
      {"data": {"name": "bars"}, "transform": [{"filter": "datum.p=='E'"}], "mark": {"type": "rule", "color": "black", "strokeWidth": 1.5},
       "encoding": {"x": {"field": "g", "type": "nominal"}, "y": {"field": "lo", "type": "quantitative"}, "y2": {"field": "hi"}}},
      {"data": {"name": "bars"}, "transform": [{"filter": "datum.p=='E' && datum.hi<=1000"}], "mark": {"type": "tick", "color": "black", "thickness": 1.5, "size": 11, "opacity": 1},
       "encoding": {"x": {"field": "g", "type": "nominal"}, "y": {"field": "hi", "type": "quantitative"}}},
      {"data": {"name": "bars"}, "transform": [{"filter": "datum.p=='E' && datum.lo>0"}], "mark": {"type": "tick", "color": "black", "thickness": 1.5, "size": 11, "opacity": 1},
       "encoding": {"x": {"field": "g", "type": "nominal"}, "y": {"field": "lo", "type": "quantitative"}}},
      {"data": {"name": "lod"}, "transform": [{"filter": "datum.p=='E'"}], "mark": {"type": "rule", "color": "black", "strokeWidth": 2.6, "strokeDash": [0.1, 6.5], "strokeCap": "round"},
       "encoding": {"y": {"field": "y", "type": "quantitative"}}},
      {"data": {"name": "pts"}, "transform": [{"filter": "datum.p=='E' && datum.v<=1000"}], "mark": {"type": "point", "filled": true, "size": 45, "stroke": "black", "strokeWidth": 1, "opacity": 1},
       "encoding": {"x": {"field": "g", "type": "nominal"}, "xOffset": {"field": "s", "type": "quantitative", "scale": {"domain": [-1,1], "range": [0,20]}}, "y": {"field": "v", "type": "quantitative"},
         "fill": {"field": "g", "type": "nominal", "scale": {"domain": ["Mock","HSV-1","HSV-2","10⁵ HSV-1","10⁵ HSV-2","5x10³ HSV-2","10³ HSV-2","HSV-1+HSV-2","Isotype","αIFNγ"], "range": ["#000000","#c8c8c8","#d7261e","#c8c8c8","#d7261e","#4a84c4","#000000","#4a84c4","#c8c8c8","#d7261e"]}, "legend": null}}}
     ]},
     {"layer": [
      {"data": {"name": "bars"}, "transform": [{"filter": "datum.p=='E' && datum.hi>1430"}], "mark": {"type": "rule", "color": "black", "strokeWidth": 1.5},
       "encoding": {"x": {"field": "g", "type": "nominal", "scale": {"domain": ["HSV-1","HSV-2","HSV-1+HSV-2"], "paddingInner": 0.355, "paddingOuter": 0.34}, "axis": null},
         "y": {"field": "hi", "type": "quantitative", "scale": {"domain": [1430,3000], "range": [33,0], "nice": false, "zero": false}, "axis": {"orient": "left", "title": null, "values": [1430,2000,3000], "tickCount": 12, "labelOverlap": false, "labelExpr": "datum.value==1430 ? '' : datum.label"}},
         "y2": {"datum": 1430}}},
      {"data": {"name": "bars"}, "transform": [{"filter": "datum.p=='E' && datum.hi>1430"}], "mark": {"type": "tick", "color": "black", "thickness": 1.5, "size": 11, "opacity": 1},
       "encoding": {"x": {"field": "g", "type": "nominal"}, "y": {"field": "hi", "type": "quantitative"}}},
      {"data": {"name": "pts"}, "transform": [{"filter": "datum.p=='E' && datum.v>1430"}], "mark": {"type": "point", "filled": true, "size": 45, "stroke": "black", "strokeWidth": 1, "opacity": 1},
       "encoding": {"x": {"field": "g", "type": "nominal"}, "xOffset": {"field": "s", "type": "quantitative", "scale": {"domain": [-1,1], "range": [0,20]}}, "y": {"field": "v", "type": "quantitative"},
         "fill": {"field": "g", "type": "nominal", "scale": {"domain": ["Mock","HSV-1","HSV-2","10⁵ HSV-1","10⁵ HSV-2","5x10³ HSV-2","10³ HSV-2","HSV-1+HSV-2","Isotype","αIFNγ"], "range": ["#000000","#c8c8c8","#d7261e","#c8c8c8","#d7261e","#4a84c4","#000000","#4a84c4","#c8c8c8","#d7261e"]}, "legend": null}}}
     ]},
     {"data": {"name": "sig"}, "transform": [{"filter": "datum.p=='E'"}, {"calculate": "(datum.i1+datum.i2)/2", "as": "mid"}],
      "encoding": {"x": {"field": "i1", "type": "quantitative", "scale": {"domain": [-0.6625, 2.6625], "nice": false, "zero": false}, "axis": null},
        "y": {"field": "y", "type": "quantitative", "scale": {"domain": [1430,3000], "range": [33,0], "nice": false, "zero": false}, "axis": null}},
      "layer": [
       {"mark": {"type": "rule", "color": "#333333", "strokeWidth": 1.5}, "encoding": {"x2": {"field": "i2"}}},
       {"transform": [{"filter": "indexof(datum.t,'*')>=0"}], "mark": {"type": "text", "fontSize": 21, "fontWeight": "bold", "baseline": "alphabetic", "dy": 6}, "encoding": {"x": {"field": "mid", "type": "quantitative"}, "text": {"field": "t"}}},
       {"transform": [{"filter": "indexof(datum.t,'*')<0"}], "mark": {"type": "text", "fontSize": 15, "baseline": "alphabetic", "dy": -3}, "encoding": {"x": {"field": "mid", "type": "quantitative"}, "text": {"field": "t"}}}
      ]}
    ]}
  ]},
  {"bounds": "flush", "spacing": 84, "hconcat": [
   {"width": 106, "height": 156, "title": {"text": "F", "dx": 20, "offset": 25},
    "resolve": {"scale": {"x": "independent"}},
    "layer": [
     {"layer": [
      {"data": {"name": "bars"}, "transform": [{"filter": "datum.p=='F'"}], "mark": {"type": "bar", "fill": "white", "stroke": "black", "strokeWidth": 1.5},
       "encoding": {"x": {"field": "g", "type": "nominal", "scale": {"domain": ["Isotype","αIFNγ"], "paddingInner": 0.3, "paddingOuter": 0.4}, "axis": {"title": null}},
         "y": {"field": "m", "type": "quantitative", "scale": {"domain": [0,4000], "nice": false}, "axis": {"title": ["CD11c+MHCII+","CD86 MFI"], "titleLineHeight": 14, "values": [0,1000,2000,3000,4000], "tickCount": 12, "labelOverlap": false, "minExtent": 46, "maxExtent": 46}}}},
      {"data": {"name": "bars"}, "transform": [{"filter": "datum.p=='F'"}], "mark": {"type": "rule", "color": "black", "strokeWidth": 1.5},
       "encoding": {"x": {"field": "g", "type": "nominal"}, "y": {"field": "lo", "type": "quantitative"}, "y2": {"field": "hi"}}},
      {"data": {"name": "bars"}, "transform": [{"filter": "datum.p=='F'"}], "mark": {"type": "tick", "color": "black", "thickness": 1.5, "size": 13, "opacity": 1},
       "encoding": {"x": {"field": "g", "type": "nominal"}, "y": {"field": "hi", "type": "quantitative"}}},
      {"data": {"name": "bars"}, "transform": [{"filter": "datum.p=='F'"}], "mark": {"type": "tick", "color": "black", "thickness": 1.5, "size": 13, "opacity": 1},
       "encoding": {"x": {"field": "g", "type": "nominal"}, "y": {"field": "lo", "type": "quantitative"}}},
      {"data": {"name": "pts"}, "transform": [{"filter": "datum.p=='F'"}], "mark": {"type": "point", "filled": true, "size": 50, "stroke": "black", "strokeWidth": 1, "opacity": 1},
       "encoding": {"x": {"field": "g", "type": "nominal"}, "xOffset": {"field": "s", "type": "quantitative", "scale": {"domain": [-1,1], "range": [3.8,25.8]}}, "y": {"field": "v", "type": "quantitative"},
         "fill": {"field": "g", "type": "nominal", "scale": {"domain": ["Mock","HSV-1","HSV-2","10⁵ HSV-1","10⁵ HSV-2","5x10³ HSV-2","10³ HSV-2","HSV-1+HSV-2","Isotype","αIFNγ"], "range": ["#000000","#c8c8c8","#d7261e","#c8c8c8","#d7261e","#4a84c4","#000000","#4a84c4","#c8c8c8","#d7261e"]}, "legend": null}}}
     ]},
     {"data": {"name": "sig"}, "transform": [{"filter": "datum.p=='F'"}, {"calculate": "(datum.i1+datum.i2)/2", "as": "mid"}],
      "encoding": {"x": {"field": "i1", "type": "quantitative", "scale": {"domain": [-0.75, 1.75], "nice": false, "zero": false}, "axis": null}, "y": {"field": "y", "type": "quantitative"}},
      "layer": [
       {"mark": {"type": "rule", "color": "#333333", "strokeWidth": 1.5}, "encoding": {"x2": {"field": "i2"}}},
       {"mark": {"type": "text", "fontSize": 21, "fontWeight": "bold", "baseline": "alphabetic", "dy": 6}, "encoding": {"x": {"field": "mid", "type": "quantitative"}, "text": {"field": "t"}}}
      ]}
    ]},
   {"width": 110, "height": 154, "title": {"text": "G", "dx": -1, "offset": 13},
    "resolve": {"scale": {"x": "independent"}},
    "layer": [
     {"layer": [
      {"data": {"name": "bars"}, "transform": [{"filter": "datum.p=='G'"}], "mark": {"type": "bar", "fill": "white", "stroke": "black", "strokeWidth": 1.5},
       "encoding": {"x": {"field": "g", "type": "nominal", "scale": {"domain": ["Isotype","αIFNγ"], "paddingInner": 0.3, "paddingOuter": 0.4}, "axis": {"title": null}},
         "y": {"field": "m", "type": "quantitative", "scale": {"domain": [0,6000], "nice": false}, "axis": {"title": "CD11b+ DC CD86 MFI", "values": [0,2000,4000,6000], "tickCount": 12, "labelOverlap": false, "minExtent": 43, "maxExtent": 43}}}},
      {"data": {"name": "bars"}, "transform": [{"filter": "datum.p=='G'"}], "mark": {"type": "rule", "color": "black", "strokeWidth": 1.5},
       "encoding": {"x": {"field": "g", "type": "nominal"}, "y": {"field": "lo", "type": "quantitative"}, "y2": {"field": "hi"}}},
      {"data": {"name": "bars"}, "transform": [{"filter": "datum.p=='G'"}], "mark": {"type": "tick", "color": "black", "thickness": 1.5, "size": 13, "opacity": 1},
       "encoding": {"x": {"field": "g", "type": "nominal"}, "y": {"field": "hi", "type": "quantitative"}}},
      {"data": {"name": "bars"}, "transform": [{"filter": "datum.p=='G'"}], "mark": {"type": "tick", "color": "black", "thickness": 1.5, "size": 13, "opacity": 1},
       "encoding": {"x": {"field": "g", "type": "nominal"}, "y": {"field": "lo", "type": "quantitative"}}},
      {"data": {"name": "pts"}, "transform": [{"filter": "datum.p=='G'"}], "mark": {"type": "point", "filled": true, "size": 50, "stroke": "black", "strokeWidth": 1, "opacity": 1},
       "encoding": {"x": {"field": "g", "type": "nominal"}, "xOffset": {"field": "s", "type": "quantitative", "scale": {"domain": [-1,1], "range": [4.4,26.4]}}, "y": {"field": "v", "type": "quantitative"},
         "fill": {"field": "g", "type": "nominal", "scale": {"domain": ["Mock","HSV-1","HSV-2","10⁵ HSV-1","10⁵ HSV-2","5x10³ HSV-2","10³ HSV-2","HSV-1+HSV-2","Isotype","αIFNγ"], "range": ["#000000","#c8c8c8","#d7261e","#c8c8c8","#d7261e","#4a84c4","#000000","#4a84c4","#c8c8c8","#d7261e"]}, "legend": null}}}
     ]},
     {"data": {"name": "sig"}, "transform": [{"filter": "datum.p=='G'"}, {"calculate": "(datum.i1+datum.i2)/2", "as": "mid"}],
      "encoding": {"x": {"field": "i1", "type": "quantitative", "scale": {"domain": [-0.75, 1.75], "nice": false, "zero": false}, "axis": null}, "y": {"field": "y", "type": "quantitative"}},
      "layer": [
       {"mark": {"type": "rule", "color": "#333333", "strokeWidth": 1.5}, "encoding": {"x2": {"field": "i2"}}},
       {"mark": {"type": "text", "fontSize": 21, "fontWeight": "bold", "baseline": "alphabetic", "dy": 6}, "encoding": {"x": {"field": "mid", "type": "quantitative"}, "text": {"field": "t"}}}
      ]}
    ]},
   {"width": 110, "height": 153, "title": {"text": "H", "dx": -2, "offset": 12},
    "resolve": {"scale": {"x": "independent"}},
    "layer": [
     {"layer": [
      {"data": {"name": "bars"}, "transform": [{"filter": "datum.p=='H'"}], "mark": {"type": "bar", "fill": "white", "stroke": "black", "strokeWidth": 1.5},
       "encoding": {"x": {"field": "g", "type": "nominal", "scale": {"domain": ["Isotype","αIFNγ"], "paddingInner": 0.3, "paddingOuter": 0.4}, "axis": {"title": null}},
         "y": {"field": "m", "type": "quantitative", "scale": {"domain": [0,5000], "nice": false}, "axis": {"title": "CD103+ DC CD86 MFI", "values": [0,1000,2000,3000,4000,5000], "tickCount": 12, "labelOverlap": false, "minExtent": 41, "maxExtent": 41}}}},
      {"data": {"name": "bars"}, "transform": [{"filter": "datum.p=='H'"}], "mark": {"type": "rule", "color": "black", "strokeWidth": 1.5},
       "encoding": {"x": {"field": "g", "type": "nominal"}, "y": {"field": "lo", "type": "quantitative"}, "y2": {"field": "hi"}}},
      {"data": {"name": "bars"}, "transform": [{"filter": "datum.p=='H'"}], "mark": {"type": "tick", "color": "black", "thickness": 1.5, "size": 13, "opacity": 1},
       "encoding": {"x": {"field": "g", "type": "nominal"}, "y": {"field": "hi", "type": "quantitative"}}},
      {"data": {"name": "bars"}, "transform": [{"filter": "datum.p=='H'"}], "mark": {"type": "tick", "color": "black", "thickness": 1.5, "size": 13, "opacity": 1},
       "encoding": {"x": {"field": "g", "type": "nominal"}, "y": {"field": "lo", "type": "quantitative"}}},
      {"data": {"name": "pts"}, "transform": [{"filter": "datum.p=='H'"}], "mark": {"type": "point", "filled": true, "size": 50, "stroke": "black", "strokeWidth": 1, "opacity": 1},
       "encoding": {"x": {"field": "g", "type": "nominal"}, "xOffset": {"field": "s", "type": "quantitative", "scale": {"domain": [-1,1], "range": [4.4,26.4]}}, "y": {"field": "v", "type": "quantitative"},
         "fill": {"field": "g", "type": "nominal", "scale": {"domain": ["Mock","HSV-1","HSV-2","10⁵ HSV-1","10⁵ HSV-2","5x10³ HSV-2","10³ HSV-2","HSV-1+HSV-2","Isotype","αIFNγ"], "range": ["#000000","#c8c8c8","#d7261e","#c8c8c8","#d7261e","#4a84c4","#000000","#4a84c4","#c8c8c8","#d7261e"]}, "legend": null}}}
     ]},
     {"data": {"name": "sig"}, "transform": [{"filter": "datum.p=='H'"}, {"calculate": "(datum.i1+datum.i2)/2", "as": "mid"}],
      "encoding": {"x": {"field": "i1", "type": "quantitative", "scale": {"domain": [-0.75, 1.75], "nice": false, "zero": false}, "axis": null}, "y": {"field": "y", "type": "quantitative"}},
      "layer": [
       {"mark": {"type": "rule", "color": "#333333", "strokeWidth": 1.5}, "encoding": {"x2": {"field": "i2"}}},
       {"mark": {"type": "text", "fontSize": 21, "fontWeight": "bold", "baseline": "alphabetic", "dy": 6}, "encoding": {"x": {"field": "mid", "type": "quantitative"}, "text": {"field": "t"}}}
      ]}
    ]},
   {"width": 108, "height": 153, "title": {"text": "I", "dx": 10, "offset": 25},
    "resolve": {"scale": {"x": "independent"}},
    "layer": [
     {"layer": [
      {"data": {"name": "bars"}, "transform": [{"filter": "datum.p=='I'"}], "mark": {"type": "bar", "fill": "white", "stroke": "black", "strokeWidth": 1.5},
       "encoding": {"x": {"field": "g", "type": "nominal", "scale": {"domain": ["Isotype","αIFNγ"], "paddingInner": 0.3, "paddingOuter": 0.4}, "axis": {"title": null}},
         "y": {"field": "m", "type": "quantitative", "scale": {"domain": [0,4000], "nice": false}, "axis": {"title": "DN DC CD86 MFI", "values": [0,1000,2000,3000,4000], "tickCount": 12, "labelOverlap": false, "minExtent": 45, "maxExtent": 45}}}},
      {"data": {"name": "bars"}, "transform": [{"filter": "datum.p=='I'"}], "mark": {"type": "rule", "color": "black", "strokeWidth": 1.5},
       "encoding": {"x": {"field": "g", "type": "nominal"}, "y": {"field": "lo", "type": "quantitative"}, "y2": {"field": "hi"}}},
      {"data": {"name": "bars"}, "transform": [{"filter": "datum.p=='I'"}], "mark": {"type": "tick", "color": "black", "thickness": 1.5, "size": 13, "opacity": 1},
       "encoding": {"x": {"field": "g", "type": "nominal"}, "y": {"field": "hi", "type": "quantitative"}}},
      {"data": {"name": "bars"}, "transform": [{"filter": "datum.p=='I'"}], "mark": {"type": "tick", "color": "black", "thickness": 1.5, "size": 13, "opacity": 1},
       "encoding": {"x": {"field": "g", "type": "nominal"}, "y": {"field": "lo", "type": "quantitative"}}},
      {"data": {"name": "pts"}, "transform": [{"filter": "datum.p=='I'"}], "mark": {"type": "point", "filled": true, "size": 50, "stroke": "black", "strokeWidth": 1, "opacity": 1},
       "encoding": {"x": {"field": "g", "type": "nominal"}, "xOffset": {"field": "s", "type": "quantitative", "scale": {"domain": [-1,1], "range": [4.1,26.1]}}, "y": {"field": "v", "type": "quantitative"},
         "fill": {"field": "g", "type": "nominal", "scale": {"domain": ["Mock","HSV-1","HSV-2","10⁵ HSV-1","10⁵ HSV-2","5x10³ HSV-2","10³ HSV-2","HSV-1+HSV-2","Isotype","αIFNγ"], "range": ["#000000","#c8c8c8","#d7261e","#c8c8c8","#d7261e","#4a84c4","#000000","#4a84c4","#c8c8c8","#d7261e"]}, "legend": null}}}
     ]},
     {"data": {"name": "sig"}, "transform": [{"filter": "datum.p=='I'"}, {"calculate": "(datum.i1+datum.i2)/2", "as": "mid"}],
      "encoding": {"x": {"field": "i1", "type": "quantitative", "scale": {"domain": [-0.75, 1.75], "nice": false, "zero": false}, "axis": null}, "y": {"field": "y", "type": "quantitative"}},
      "layer": [
       {"mark": {"type": "rule", "color": "#333333", "strokeWidth": 1.5}, "encoding": {"x2": {"field": "i2"}}},
       {"mark": {"type": "text", "fontSize": 21, "fontWeight": "bold", "baseline": "alphabetic", "dy": 6}, "encoding": {"x": {"field": "mid", "type": "quantitative"}, "text": {"field": "t"}}}
      ]}
    ]}
  ]}
 ]}
]
}
